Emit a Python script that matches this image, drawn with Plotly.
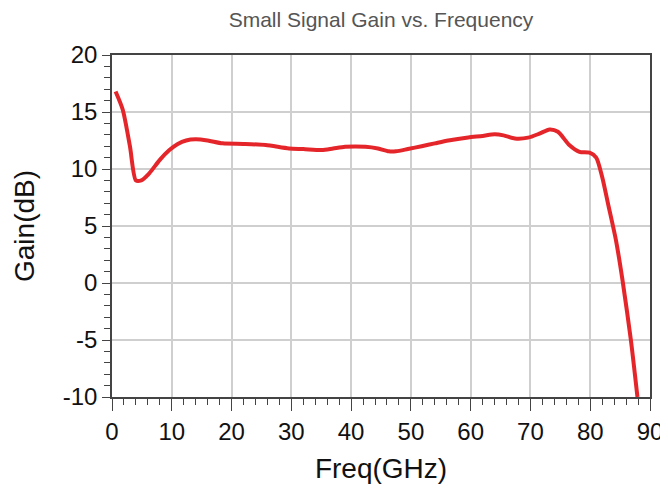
import plotly.graph_objects as go

freq_ghz = [0.6, 1.8, 3.0, 4.0, 4.9, 6.2, 8.0, 9.6, 11.0, 12.4, 14.0, 16.0, 18.5, 22.0,
            25.7, 29.6, 32.0, 35.1, 37.0, 39.0, 42.4, 44.5, 46.3, 47.5, 49.5, 51.8,
            54.0, 56.25, 59.6, 62.0, 64.0, 65.5, 67.4, 69.6, 71.5, 73.2, 74.6, 76.5,
            78.2, 79.9, 81.0, 82.0, 83.0, 84.3, 85.4, 86.8, 87.9]
gain_db = [16.8, 15.2, 12.0, 9.0, 9.0, 9.6, 10.8, 11.66, 12.2, 12.5, 12.6, 12.5, 12.25, 12.2,
           12.1, 11.8, 11.75, 11.66, 11.8, 11.95, 11.95, 11.8, 11.55, 11.55, 11.75, 12.0,
           12.25, 12.5, 12.77, 12.9, 13.04, 12.95, 12.68, 12.75, 13.1, 13.47, 13.27, 12.1,
           11.5, 11.43, 11.0, 9.3, 6.9, 3.76, 0.25, -5.0, -10.0]

x_ticks = [0, 10, 20, 30, 40, 50, 60, 70, 80, 90]
x_labels = ["0", "10", "20", "30", "40", "50", "60", "70", "80", "90"]
y_ticks = [-10, -5, 0, 5, 10, 15, 20]
y_labels = ["-10", "-5", "0", "5", "10", "15", "20"]

font_family = "Liberation Sans, Arial, sans-serif"

fig = go.Figure()
fig.add_trace(go.Scatter(
    x=freq_ghz, y=gain_db, mode="lines",
    line=dict(color="#e4262b", width=4, shape="spline", smoothing=0.7),
    showlegend=False, hoverinfo="skip",
))

axis_common = dict(
    showline=True, linecolor="#444", linewidth=1.5, mirror=True,
    showgrid=True, gridcolor="#cfcfcf", gridwidth=1.5,
    zeroline=False, ticks="outside", tickcolor="#444", tickwidth=1.2,
    tickfont=dict(family=font_family, size=24, color="#111"),
    automargin=False,
)

fig.update_layout(
    width=660, height=480,
    margin=dict(l=104, r=18, t=47, b=91),
    paper_bgcolor="white", plot_bgcolor="white",
    title=dict(text="Small Signal Gain vs. Frequency", x=0.5, xref="paper",
               y=1.0, yref="container", yanchor="top", automargin=False,
               pad=dict(t=4, b=0),
               font=dict(family=font_family, size=21, color="#555")),
    xaxis=dict(range=[0, 90], tickvals=x_ticks, ticktext=x_labels, ticklen=12,
               minor=dict(dtick=2, ticks="outside", ticklen=6, tickcolor="#444", showgrid=False),
               title=dict(text="Freq(GHz)", standoff=15,
                          font=dict(family=font_family, size=28, color="#111")),
               **axis_common),
    yaxis=dict(range=[-10, 20], tickvals=y_ticks, ticktext=y_labels, ticklen=8,
               minor=dict(dtick=1, ticks="outside", ticklen=6, tickcolor="#444", showgrid=False),
               title=dict(text="Gain(dB)", standoff=20,
                          font=dict(family=font_family, size=28, color="#111")),
               **axis_common),
)

fig.write_html("out.html")
